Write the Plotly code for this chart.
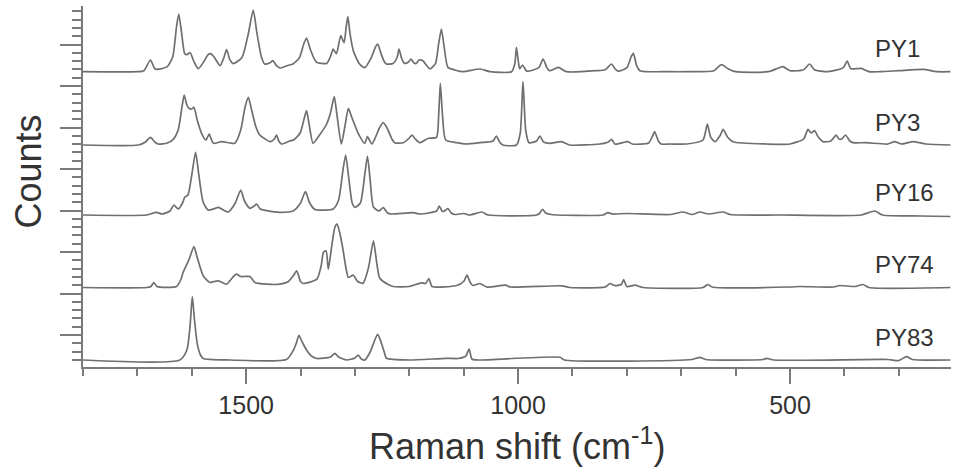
import plotly.graph_objects as go

# Raman spectra of five yellow pigments
# (wavenumber in cm-1, intensity in arbitrary counts above each baseline)

py1_shift = [1800, 1700, 1688, 1676, 1668, 1660, 1645, 1635, 1628, 1624, 1619, 1613, 1609, 1603, 1596,
             1588, 1578, 1570, 1565, 1558, 1548, 1541, 1536, 1530, 1524, 1508, 1496, 1487, 1480, 1472,
             1466, 1456, 1451, 1444, 1438, 1425, 1414, 1402, 1394, 1389, 1383, 1375, 1370, 1352, 1345,
             1340, 1334, 1326, 1320, 1316, 1313, 1309, 1303, 1292, 1282, 1270, 1262, 1258, 1252, 1246,
             1242, 1230, 1222, 1219, 1214, 1209, 1201, 1197, 1192, 1188, 1182, 1175, 1168, 1162, 1152,
             1146, 1141, 1136, 1129, 1115, 1101, 1070, 1052, 1012, 1006, 1003, 999, 997, 992, 985,
             982, 962, 954, 947, 942, 926, 911, 856, 840, 828, 822, 816, 800, 792, 788,
             782, 776, 721, 690, 640, 628, 624, 614, 600, 540, 520, 513, 500, 475, 464,
             455, 430, 402, 395, 388, 369, 355, 335, 300, 255, 230, 205]
py1_counts = [0, 0, 1, 11.7, 3, 2.5, 5, 15, 45, 57.7, 40, 18, 17, 19, 10,
              3, 10, 17, 18, 14, 6, 14, 22, 12, 8, 14, 38, 61.7, 38, 15,
              7.7, 9, 11, 6, 3.7, 6, 7.7, 14, 28, 33.7, 24, 13, 9.3, 8.3, 15,
              22.7, 18, 36, 29, 45, 55, 38, 21, 8, 4, 14, 25, 27.7, 18, 10,
              7.7, 8.3, 15, 22.7, 13, 8.3, 10, 12.7, 9, 8, 11.7, 11, 6, 2.7, 8,
              28, 42.7, 25, 4.3, 1.5, 0, 2.7, 0, 0, 8, 24.3, 8, 3, 6.7, 1,
              0.5, 4, 12.7, 4, 1, 4.3, 0, 1, 2, 7.7, 3, 0.5, 4, 15, 18.3,
              6, 1, 0, 0, 1, 6.7, 6.7, 3, 0, 0, 4, 5, 1, 2, 7.7,
              2, 0, 4, 10.7, 3, 3.3, 0, 0, 1, 2.3, 0, 0]

py3_shift = [1800, 1698, 1685, 1676, 1668, 1662, 1645, 1634, 1625, 1618, 1614, 1609, 1605, 1600, 1596,
             1590, 1582, 1574, 1568, 1563, 1560, 1545, 1530, 1521, 1510, 1502, 1496, 1490, 1482, 1475,
             1465, 1456, 1448, 1444, 1440, 1435, 1420, 1413, 1401, 1394, 1389, 1384, 1377, 1365, 1352,
             1345, 1338, 1333, 1325, 1318, 1312, 1306, 1294, 1282, 1277, 1269, 1262, 1255, 1248, 1240,
             1232, 1227, 1211, 1200, 1195, 1189, 1181, 1165, 1150, 1146, 1143, 1139, 1133, 1113, 1095,
             1070, 1046, 1040, 1034, 1028, 1003, 996, 991, 986, 980, 966, 960, 953, 942, 920,
             905, 850, 834, 828, 822, 798, 790, 760, 752, 749, 742, 737, 720, 690, 660,
             652, 646, 638, 628, 623, 615, 605, 543, 500, 475, 467, 461, 455, 448, 439,
             425, 415, 410, 405, 398, 390, 384, 360, 320, 308, 295, 274, 250, 205]
py3_counts = [0, 0, 3, 7.7, 3, 1, 2, 5.7, 15, 38, 50, 40, 36.7, 36, 37.7,
              25, 11.7, 5, 11, 4, 1.7, 3.3, 2, 1.7, 15, 38, 47.7, 35, 18, 10,
              6, 3.3, 6, 10, 4, 1, 4, 5, 11.7, 25, 34.3, 20, 1.7, 10, 21,
              32, 48.3, 30, 1, 20, 36.7, 28, 11.7, 1.7, 8.3, 1, 8, 17, 22.3, 16,
              6, 2.3, 2.3, 7, 10, 6, 2.3, 6.7, 7.7, 30, 61.7, 30, 5, 2.3, 1,
              2.3, 4, 9, 3, 0, 0, 12, 63.3, 15, 2.3, 4, 9, 3, 1.7, 3.3,
              0, 1, 3, 5.7, 1, 3.3, 1, 2, 10, 13.3, 4, 1, 1, 1, 5,
              21, 8, 3.3, 10, 15.7, 8, 3.3, 1, 1, 6, 15.7, 12, 14.3, 8, 3.3,
              4, 10, 6, 6, 10, 4, 2.3, 2.3, 1, 3.3, 1, 3.3, 1, 0]

py16_shift = [1800, 1683, 1665, 1655, 1640, 1633, 1625, 1617, 1613, 1607, 1600, 1593, 1587, 1579, 1570,
              1560, 1551, 1542, 1533, 1520, 1510, 1503, 1493, 1485, 1481, 1474, 1462, 1438, 1413, 1400,
              1391, 1384, 1375, 1370, 1340, 1330, 1322, 1317, 1312, 1305, 1300, 1290, 1282, 1277, 1272,
              1266, 1256, 1248, 1240, 1233, 1193, 1180, 1150, 1145, 1140, 1137, 1129, 1123, 1117, 1100,
              1089, 1067, 1055, 966, 960, 955, 949, 939, 844, 835, 826, 800, 721, 697, 680,
              666, 650, 623, 610, 520, 370, 344, 330, 260, 205]
py16_counts = [0, 0, 2.7, 1, 4, 10, 6, 12, 17.7, 20, 40, 62.7, 40, 12.7, 5,
               6, 7.7, 5, 3, 12, 25, 14, 6.7, 9, 11, 6, 4.3, 2.7, 4.3, 12,
               23.3, 13, 6, 5, 6, 15, 45, 60, 40, 12, 7.7, 12, 40, 58.7, 35,
               8, 4, 7.3, 2, 1, 2.3, 1, 4, 9, 4, 3.5, 6.3, 2, 0.5, 1.5,
               0, 3, 0, 0, 2, 5.7, 2, 0.5, 0, 2.3, 1, 1.5, 0.5, 3, 0.5,
               3, 1, 3, 0.5, 0, 0, 4, 0, -1, -1.5]

py74_shift = [1800, 1683, 1675, 1670, 1664, 1628, 1620, 1616, 1605, 1596, 1590, 1579, 1567, 1559, 1551,
              1536, 1525, 1518, 1510, 1504, 1493, 1484, 1462, 1438, 1423, 1413, 1407, 1400, 1395, 1370,
              1362, 1358, 1353, 1349, 1343, 1337, 1333, 1328, 1322, 1316, 1312, 1303, 1295, 1285, 1275,
              1266, 1260, 1255, 1248, 1230, 1200, 1178, 1170, 1164, 1158, 1113, 1100, 1094, 1088, 1083,
              1070, 1058, 1023, 1015, 920, 905, 840, 831, 823, 810, 806, 800, 785, 770, 660,
              651, 643, 500, 482, 420, 409, 380, 366, 355, 205]
py74_counts = [0, 0, 1, 5, 1, 1, 8, 15, 28, 41, 30, 11.7, 5, 6, 6.7,
               3.3, 10, 13.3, 11, 11, 11, 5, 3.3, 3.3, 5.7, 12, 16.7, 6, 4, 8.3,
               22, 35, 36.7, 18.3, 40, 60, 63.3, 55, 38, 18, 10, 12.3, 6, 4.3, 20,
               46.7, 25, 10, 6, 1, 1, 4.7, 4, 9, 1, 2, 6, 12.3, 5, 2,
               4, 0.5, 2.3, 0.5, 1.7, 0, 0.5, 4, 2, 3, 8, 1, 2.3, 0, 0,
               3, 0.5, 0.5, 1, 0.5, 2, 1, 3, 0, 0]

py83_shift = [1800, 1622, 1609, 1603, 1599, 1595, 1590, 1584, 1579, 1530, 1426, 1413, 1407, 1403, 1397,
              1389, 1380, 1370, 1345, 1337, 1330, 1315, 1300, 1294, 1288, 1282, 1272, 1262, 1258, 1252,
              1245, 1242, 1200, 1132, 1110, 1096, 1090, 1085, 1075, 923, 915, 680, 666, 655, 550,
              543, 530, 320, 300, 286, 275, 205]
py83_counts = [0, 0, 10, 35, 63.3, 40, 16.7, 5, 1.5, 0, 0.5, 10, 18, 24.7, 18,
               10, 4, 1.5, 3, 6.7, 3, 0, 2, 5, 1, 0, 8, 22, 25.7, 18,
               6, 1.7, 0, 1.7, 1.5, 4, 11, 1, 0, 2.7, 0, 0.5, 2.7, 0.5, 0.5,
               1.7, 0, 0.5, -0.5, 3.3, 0.5, 0]

names = ["PY1", "PY3", "PY16", "PY74", "PY83"]
shifts = [py1_shift, py3_shift, py16_shift, py74_shift, py83_shift]
counts = [py1_counts, py3_counts, py16_counts, py74_counts, py83_counts]

# vertical stacking of the spectra (baseline of each trace)
offsets = [295.3, 222, 152, 79.5, 7]

line_col = "#6f6f6f"
axis_col = "#7a7a7a"
font = "Liberation Sans, Arial, sans-serif"

fig = go.Figure()
for name, xs, ys, off in zip(names, shifts, counts, offsets):
    fig.add_trace(go.Scatter(x=xs, y=[v + off for v in ys], mode="lines", name=name,
                             line=dict(color=line_col, width=1.7, shape="spline", smoothing=0.6),
                             showlegend=False))

# sample labels at the right end of each spectrum
annos = []
for name, off in zip(names, offsets):
    annos.append(dict(x=348, y=off + 23, xref="x", yref="y", text=name, showarrow=False,
                      xanchor="left", yanchor="middle", font=dict(family=font, size=24, color="#333")))

# axis titles
annos.append(dict(x=0.5, y=0, xref="paper", yref="paper", yshift=-52, text="Raman shift (cm<sup>-1</sup>)",
                  showarrow=False, xanchor="center", yanchor="top", font=dict(family=font, size=36, color="#333")))
annos.append(dict(x=0, y=0.5, xref="paper", yref="paper", xshift=-55, yshift=15, text="Counts", textangle=-90,
                  showarrow=False, xanchor="center", yanchor="middle", font=dict(family=font, size=36, color="#333")))

fig.update_layout(
    width=968, height=467,
    margin=dict(l=83, r=17, t=6, b=100, autoexpand=False),
    plot_bgcolor="white", paper_bgcolor="white",
    annotations=annos,
    xaxis=dict(range=[1800, 204], dtick=500, tick0=0, ticks="outside", ticklen=15, tickwidth=1.5,
               tickcolor=axis_col, showline=True, linecolor=axis_col, linewidth=1.5,
               showgrid=False, zeroline=False, automargin=False,
               tickfont=dict(family=font, size=25, color="#333"),
               minor=dict(dtick=100, tick0=0, ticks="outside", ticklen=7, tickcolor=axis_col, tickwidth=1.5)),
    yaxis=dict(range=[0, 361], tick0=32, dtick=41.5, ticks="outside", ticklen=21, tickwidth=1.5,
               tickcolor=axis_col, showline=True, linecolor=axis_col, linewidth=1.5,
               showticklabels=False, showgrid=False, zeroline=False, automargin=False,
               minor=dict(dtick=8.3, tick0=32, ticks="outside", ticklen=9, tickcolor=axis_col, tickwidth=1.5)),
)

# drop the page's default body margin so the figure sits at the window's corner
fig.write_html("out.html", config={"displayModeBar": False},
               post_script="document.body.style.margin='0';")
